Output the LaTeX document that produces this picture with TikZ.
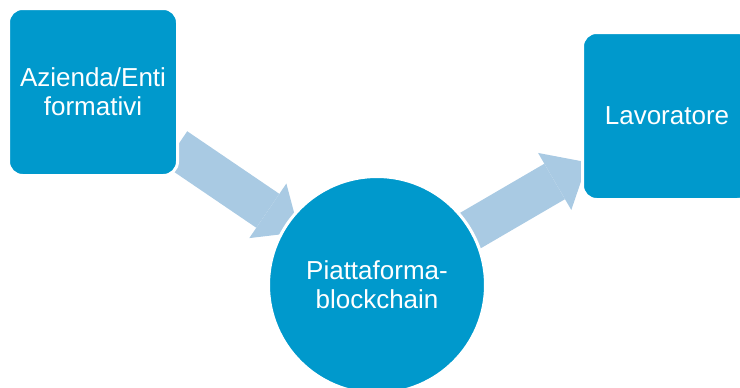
\documentclass[tikz,border=0pt]{standalone}
\usepackage{fontspec}
\setmainfont{Liberation Sans}
\usetikzlibrary{arrows.meta,calc,backgrounds}
\definecolor{boxblue}{RGB}{0,153,204}
\definecolor{flowblue}{RGB}{169,202,227}
\begin{document}
\begin{tikzpicture}[
	x=1pt, y=-1pt,
	font=\fontsize{26}{29}\selectfont,
	box/.style={draw=white, line width=3pt, fill=boxblue, text=white, align=center, rounded corners=14pt, minimum width=169pt, minimum height=167pt, inner sep=0pt},
	hub/.style={circle, draw=white, line width=3pt, fill=boxblue, text=white, align=center, minimum size=217pt, inner sep=0pt},
	flow/.style={draw=flowblue, line width=41pt, -{Triangle[length=38pt,width=66pt,line width=0pt]}},
	]
\useasboundingbox (0,0) rectangle (740,388);
\clip (0,0) rectangle (740,388);
\node [box] (azienda) at (93,92) {Azienda/Enti\\formativi};
\node [hub] (piattaforma) at (377,285) {Piattaforma-\\blockchain};
\node [box] (lavoratore) at (667,116) {Lavoratore};
\begin{scope}[on background layer]
	\draw [flow] ($(azienda)!100pt!(piattaforma)$) -- ($(piattaforma)!94pt!(azienda)$);
	\draw [flow] ($(piattaforma)!95pt!(lavoratore)$) -- ($(lavoratore)!92pt!(piattaforma)$);
\end{scope}
\end{tikzpicture}
\end{document}
